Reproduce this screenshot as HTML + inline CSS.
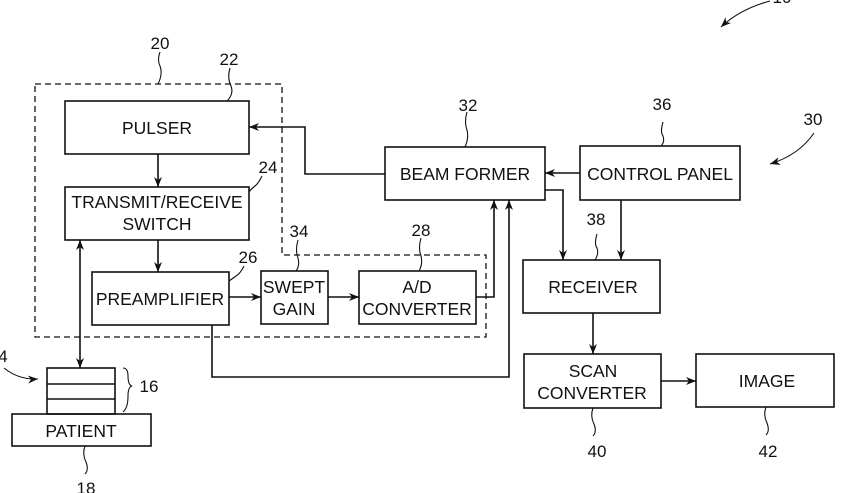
<!DOCTYPE html>
<html><head><style>
body{margin:0;background:#fff;}
svg{display:block;}
text{font-family:"Liberation Sans",sans-serif;fill:#111;}
</style></head><body>
<svg width="856" height="493" viewBox="0 0 856 493" xmlns="http://www.w3.org/2000/svg">
<defs>
<marker id="a" viewBox="0 0 10 10" refX="10" refY="5" markerWidth="10" markerHeight="10" orient="auto-start-reverse" markerUnits="userSpaceOnUse">
<path d="M0,1 L10,5 L0,9 L3,5 Z" fill="#111"/></marker>
</defs>
<g fill="none" stroke="#111" stroke-width="1.6">
<path d="M35,84 H282 V255 H486 V337 H35 Z" stroke-dasharray="6,4" stroke-width="1.3"/>
<rect x="65" y="101" width="184" height="53"/>
<rect x="65" y="187" width="184" height="53"/>
<rect x="92" y="272" width="137" height="53"/>
<rect x="261" y="271" width="67" height="53"/>
<rect x="359" y="271" width="117" height="53"/>
<rect x="385" y="147" width="160" height="53"/>
<rect x="580" y="146" width="160" height="54"/>
<rect x="523" y="260" width="137" height="53"/>
<rect x="524" y="354" width="137" height="54"/>
<rect x="696" y="354" width="138" height="53"/>
<rect x="12" y="414" width="139" height="32"/>
<rect x="47" y="368" width="68" height="46"/>
<line x1="47" y1="384" x2="115" y2="384"/>
<line x1="47" y1="399" x2="115" y2="399"/>
<line x1="158" y1="154" x2="158" y2="187" marker-end="url(#a)"/>
<line x1="158" y1="240" x2="158" y2="272" marker-end="url(#a)"/>
<line x1="80" y1="240" x2="80" y2="368" marker-start="url(#a)" marker-end="url(#a)"/>
<line x1="229" y1="297" x2="261" y2="297" marker-end="url(#a)"/>
<line x1="328" y1="297" x2="359" y2="297" marker-end="url(#a)"/>
<path d="M476,297 H494 V200" marker-end="url(#a)"/>
<path d="M212,325 V377 H509 V200" marker-end="url(#a)"/>
<path d="M385,174 H305 V127 H249" marker-end="url(#a)"/>
<line x1="580" y1="173" x2="545" y2="173" marker-end="url(#a)"/>
<path d="M545,190 H563 V260" marker-end="url(#a)"/>
<line x1="621" y1="200" x2="621" y2="260" marker-end="url(#a)"/>
<line x1="593" y1="313" x2="593" y2="354" marker-end="url(#a)"/>
<line x1="661" y1="381" x2="696" y2="381" marker-end="url(#a)"/>
<g stroke-width="1.1">
<path d="M160,52 q-3,8 0,14 q3,8 -2,18"/>
<path d="M230,68 q-3,10 1,18 q3,8 -4,15"/>
<path d="M262,176 q-4,8 -7,10 q-4,3 -6,6"/>
<path d="M244,266 q-4,8 -8,10 q-4,3 -7,5"/>
<path d="M298,240 q-3,10 0,18 q2,8 -2,13"/>
<path d="M421,238 q-3,10 0,18 q2,8 -2,15"/>
<path d="M467,112 q-3,10 0,18 q2,8 -2,17"/>
<path d="M663,122 q-3,10 0,14 q2,6 -2,10"/>
<path d="M597,234 q-3,10 0,14 q2,6 -2,12"/>
<path d="M593,408 q-3,8 1,16 q3,8 -1,12"/>
<path d="M766,407 q-3,8 1,16 q3,8 -1,12"/>
<path d="M85,446 q-3,8 1,16 q3,8 -1,12"/>
<path d="M123,368 q5,0 5,8 q0,9 4,10 q-4,1 -4,10 q0,12 -5,16"/>
<path d="M814,133 q-15,22 -44,31" marker-end="url(#a)"/>
<path d="M770,1 q-30,8 -49,26" marker-end="url(#a)"/>
<path d="M4,368 q15,12 34,11" marker-end="url(#a)"/>
</g>
</g>
<g font-size="17.5" text-anchor="middle">
<text x="157" y="134">PULSER</text>
<text x="157" y="208">TRANSMIT/RECEIVE</text>
<text x="157" y="230">SWITCH</text>
<text x="160" y="305">PREAMPLIFIER</text>
<text x="294" y="293">SWEPT</text>
<text x="294" y="315">GAIN</text>
<text x="417" y="293">A/D</text>
<text x="417" y="315">CONVERTER</text>
<text x="465" y="180">BEAM FORMER</text>
<text x="660" y="180">CONTROL PANEL</text>
<text x="593" y="293">RECEIVER</text>
<text x="593" y="377">SCAN</text>
<text x="592" y="399">CONVERTER</text>
<text x="767" y="387">IMAGE</text>
<text x="81" y="437">PATIENT</text>
</g>
<g font-size="17" text-anchor="middle">
<text x="160" y="49">20</text>
<text x="229" y="65">22</text>
<text x="268" y="173">24</text>
<text x="248" y="263">26</text>
<text x="299" y="237">34</text>
<text x="421" y="236">28</text>
<text x="468" y="111">32</text>
<text x="662" y="110">36</text>
<text x="813" y="125">30</text>
<text x="596" y="225">38</text>
<text x="597" y="457">40</text>
<text x="768" y="457">42</text>
<text x="149" y="392">16</text>
<text x="86" y="494">18</text>
<text x="3" y="362">4</text>
<text x="782" y="3">10</text>
</g>
</svg>
</body></html>
